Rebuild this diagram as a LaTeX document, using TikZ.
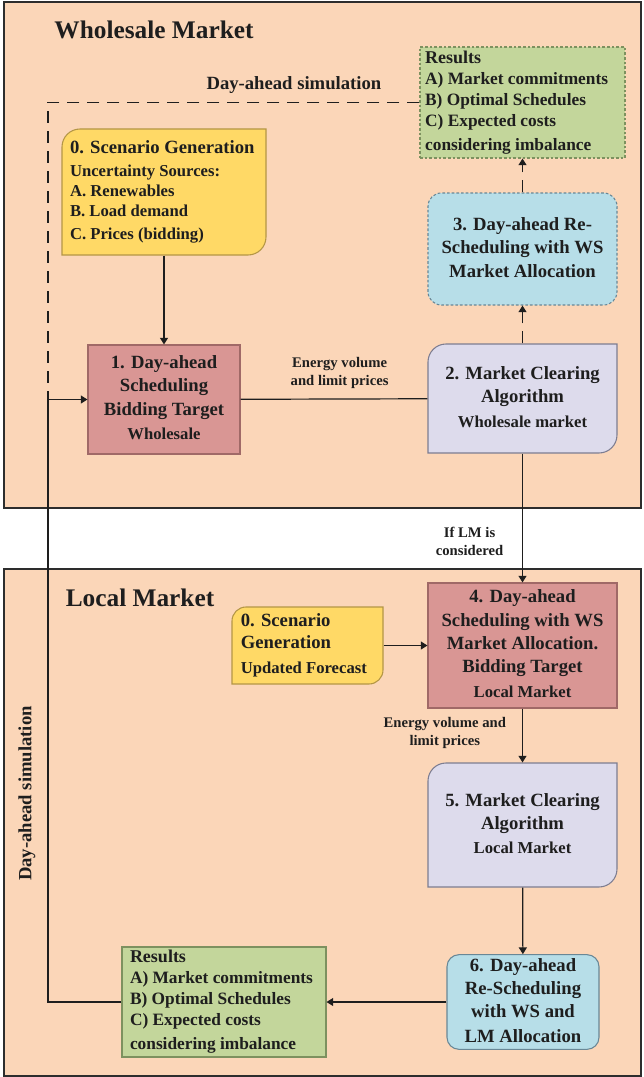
\documentclass[tikz,border=0pt]{standalone}
\usepackage{fontspec}
\setmainfont{Liberation Serif}
\usetikzlibrary{arrows.meta}

\definecolor{panelfill}{RGB}{251,214,184}
\definecolor{panelline}{RGB}{45,45,45}
\definecolor{rosefill}{RGB}{217,150,148}
\definecolor{roseline}{RGB}{160,105,103}
\definecolor{yelfill}{RGB}{255,217,102}
\definecolor{yelline}{RGB}{180,150,70}
\definecolor{lavfill}{RGB}{221,219,236}
\definecolor{lavline}{RGB}{125,125,145}
\definecolor{bluefill}{RGB}{183,222,232}
\definecolor{blueline}{RGB}{105,135,150}
\definecolor{grnfill}{RGB}{195,214,155}
\definecolor{grnline}{RGB}{125,145,95}
\definecolor{ink}{RGB}{30,30,30}

\newcommand{\bigtxt}{\fontsize{14}{17.5}\selectfont}
\newcommand{\smalltxt}{\fontsize{12.5}{15}\selectfont}
\newcommand{\restxt}{\fontsize{13}{15.75}\selectfont}
\newcommand{\lbltxt}{\fontsize{11}{13.5}\selectfont}

% centred and left-aligned text blocks for the boxes
\newcommand{\ctab}[1]{\begin{tabular}{@{}c@{}}#1\end{tabular}}
\newcommand{\ltab}[2]{\begin{tabular}{@{}p{#1}@{}}#2\end{tabular}}

% outline with rounded top-left and bottom-right corners
% #1 style, (#2,#3) top-left, (#4,#5) bottom-right, #6 corner radius
\newcommand{\tlbrshape}[6]{%
  \path[#1] (#2,#3+#6) .. controls (#2,#3+0.448*#6) and (#2+0.448*#6,#3) .. (#2+#6,#3)
    -- (#4,#3) -- (#4,#5-#6) .. controls (#4,#5-0.448*#6) and (#4-0.448*#6,#5) .. (#4-#6,#5)
    -- (#2,#5) -- cycle;}

\begin{document}
\begin{tikzpicture}[x=0.75pt,y=-0.75pt,
  span/.style n args={4}{at={({(#1+#3)/2},{(#2+#4)/2})}, anchor=center,
      minimum width={(#3-#1)*0.75pt}, minimum height={(#4-#2)*0.75pt}},
  box/.style={inner sep=0pt, font=\bigtxt\bfseries, text=ink, line width=0.8pt},
  finedash/.style={dash pattern=on 2pt off 1.5pt},
  conn/.style={draw=ink, line width=0.9pt},
  arr/.style={conn, -{Triangle[length=5pt,width=6pt]}},
  loopdash/.style={dash pattern=on 9pt off 6pt},
  lbl/.style={font=\lbltxt\bfseries, align=center, text=ink, inner sep=1pt},
  simlbl/.style={font=\fontsize{14}{17}\selectfont\bfseries, text=ink},
  paneltitle/.style={font=\fontsize{19}{22}\selectfont\bfseries, text=ink},
  panelbox/.style={inner sep=0pt, draw=panelline, fill=panelfill, line width=1pt}]

\useasboundingbox (0,0) rectangle (643,1077);
\fill[white] (0,0) rectangle (643,1077);

% market panels
\node[panelbox, span={4}{2}{641}{508}] (ws) {};
\node[panelbox, span={4}{569}{641}{1076}] (lm) {};
\node[paneltitle] (wstitle) at (154,30) {Wholesale Market};
\node[paneltitle] (lmtitle) at (140,598) {Local Market};

% ---- wholesale market ----
\tlbrshape{fill=yelfill, draw=yelline, line width=0.8pt}{62}{129}{266}{255}{18}
\node[box, span={62}{129}{266}{255}] (scw)
  {\ltab{141pt}{0. Scenario Generation\\
   \smalltxt Uncertainty Sources:\\[-2.5pt]
   \smalltxt A. Renewables\\[-2.5pt]
   \smalltxt B. Load demand\\
   \smalltxt C. Prices (bidding)}};

\node[box, span={88}{345}{240}{454}, fill=rosefill, draw=roseline] (dw)
  {\ctab{1. Day-ahead\\Scheduling\\Bidding Target\\[1pt]\smalltxt Wholesale}};

\tlbrshape{fill=lavfill, draw=lavline, line width=0.8pt}{428}{344}{617}{453}{18}
\node[box, span={428}{344}{617}{453}] (mcw)
  {\ctab{2. Market Clearing\\Algorithm\\[1pt]\smalltxt Wholesale market}};

\node[box, span={428}{193}{617}{305}, fill=bluefill, draw=blueline, finedash,
      rounded corners=10pt] (rsw)
  {\ctab{3. Day-ahead Re-\\Scheduling with WS\\Market Allocation}};

\node[box, font=\restxt\bfseries, span={420}{47}{625}{158},
      fill=grnfill, draw=grnline, finedash] (resw)
  {\ltab{146pt}{\fontsize{13.5}{15.75}\selectfont Results\\
   A) Market commitments\\
   B) Optimal Schedules\\
   C) Expected costs\\[2.5pt]
   considering imbalance}};

% ---- local market ----
\tlbrshape{fill=yelfill, draw=yelline, line width=0.8pt}{232}{607}{383}{684}{14}
\node[box, span={232}{607}{383}{684}] (scl)
  {\ltab{100pt}{0. Scenario\\[-1pt]Generation\\[1pt]\smalltxt Updated Forecast}};

\node[box, span={428}{583}{617}{708}, fill=rosefill, draw=roseline] (dl)
  {\ctab{4. Day-ahead\\Scheduling with WS\\Market Allocation.\\Bidding Target\\[1pt]\smalltxt Local Market}};

\tlbrshape{fill=lavfill, draw=lavline, line width=0.8pt}{428}{763}{617}{887}{18}
\node[box, span={428}{763}{617}{887}] (mcl)
  {\ctab{5. Market Clearing\\Algorithm\\\smalltxt Local Market}};

\node[box, span={447}{956}{599}{1048}, fill=bluefill, draw=blueline,
      rounded corners=9pt] (rsl)
  {\ctab{6. Day-ahead\\Re-Scheduling\\with WS and\\[1pt]LM Allocation}};

\node[box, font=\restxt\bfseries, span={122}{947}{326}{1057},
      fill=grnfill, draw=grnline] (resl)
  {\ltab{141pt}{\fontsize{13.5}{15.75}\selectfont Results\\
   A) Market commitments\\
   B) Optimal Schedules\\
   C) Expected costs\\[2.5pt]
   considering imbalance}};

% ---- connectors ----
\draw[arr] (scw) -- (dw);
\draw[conn] (dw) -- node[lbl, pos=0.53, above=6pt] {Energy volume\\and limit prices} (mcw);
\draw[arr, loopdash] (mcw) -- (rsw);
\draw[arr, loopdash] (rsw) -- (resw);
\draw[arr] (mcw) -- node[lbl, pos=0.685, left=13pt] {If LM is\\considered} (dl);
\draw[arr] (scl) -- (dl);
\draw[arr] (dl) -- node[lbl, pos=0.45, left=11pt] {Energy volume and\\limit prices} (mcl);
\draw[arr] (mcl) -- (rsl);
\draw[arr] (rsl) -- (resl);

% day-ahead simulation loop back to the scheduling step
\coordinate (join) at (48,399.5);
\draw[conn] (resl.west) -| node[simlbl, pos=0.673, rotate=90, anchor=south,
   inner sep=9pt] {Day-ahead simulation} (join);
\draw[conn, loopdash] (resw.west) -| node[simlbl, pos=0.169, above=3pt]
   {Day-ahead simulation} (join);
\draw[arr] (join) -- (dw);
\end{tikzpicture}
\end{document}
